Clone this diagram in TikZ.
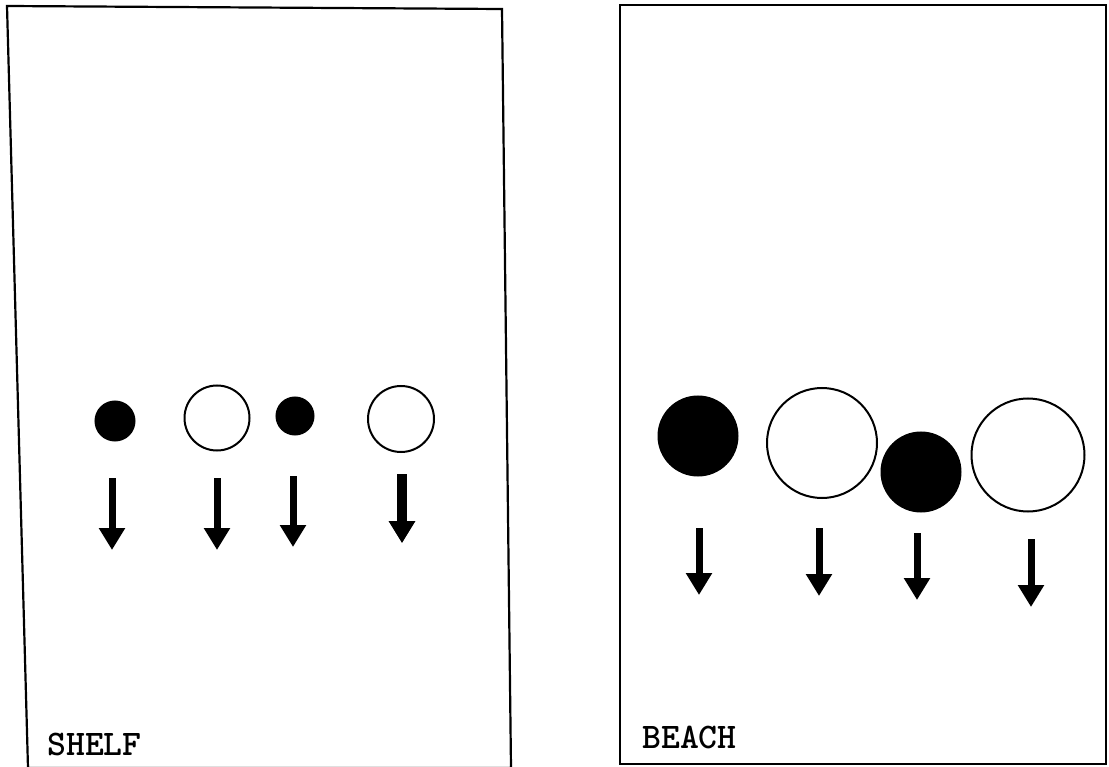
\documentclass[tikz,border=0pt]{standalone}
\usepackage{tikz}
\usetikzlibrary{arrows.meta}

\tikzset{
  grain/.style={circle,draw,line width=2pt,inner sep=0pt},
  sink/.style={line width=7pt,-{Triangle[width=25pt,length=22pt]}},
  panel/.style={line width=2.2pt},
  tag/.style={anchor=base west,inner sep=0pt,font=\ttfamily\bfseries\fontsize{36}{42}\selectfont}
}

\begin{document}
\begin{tikzpicture}[x=1pt,y=-1pt]
    \useasboundingbox (0,0) rectangle (1109,767);
    % the two panels
    \draw[panel] (7,6) -- (502,9) -- (511,768) -- (28,768) -- cycle;
    \draw[panel] (620,5) rectangle (1106,764);
    \node[tag] (shelf) at (47,755) {SHELF};
    \node[tag] (beach) at (642,748) {BEACH};
    % grains on the shelf
    \foreach \n/\x/\y/\d/\c in {1/115/421/39/black,2/217/418/65/white,3/295/416/37/black,4/401/419/66/white}
      \node[grain,fill=\c,minimum size=\d pt] (s\n) at (\x,\y) {};
    % grains on the beach
    \foreach \n/\x/\y/\d/\c in {1/698/436/79/black,2/822/443/110/white,3/921/472/79/black,4/1028/455/113/white}
      \node[grain,fill=\c,minimum size=\d pt] (b\n) at (\x,\y) {};
    % settling arrows
    \foreach \n/\x/\t/\b in {1/112/478/550,2/217/478/550,3/293/476/547,4/402/474/543}
    {
      \coordinate (st\n) at (\x,\t);
      \coordinate (sb\n) at (\x,\b);
      \draw[sink] (st\n) -- (sb\n);
    }
    \draw[sink,line width=10pt] (st4) -- (sb4);
    \foreach \n/\x/\t/\b in {1/699/528/595,2/819/528/596,3/917/533/600,4/1031/539/607}
    {
      \coordinate (bt\n) at (\x,\t);
      \coordinate (bb\n) at (\x,\b);
      \draw[sink] (bt\n) -- (bb\n);
    }
\end{tikzpicture}
\end{document}
